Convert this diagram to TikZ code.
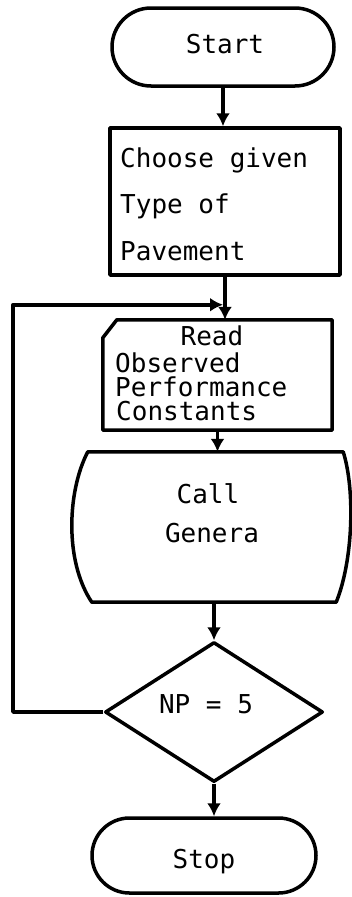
\documentclass[tikz,border=0pt]{standalone}
\usepackage{fontspec}
\setmonofont{DejaVu Sans Mono}
\usetikzlibrary{shapes.geometric,shapes.misc,arrows.meta,calc}
\begin{document}
\begin{tikzpicture}[x=1pt,y=-1pt,
  lw/.style={line width=3.5pt},
  term/.style={rounded rectangle, draw, lw, inner sep=0pt},
  box/.style={rectangle, draw, lw, inner sep=0pt},
  blank/.style={inner sep=0pt},
  txt/.style={font=\ttfamily\fontsize{26pt}{30pt}\selectfont, inner sep=0pt},
  flow/.style={lw, -{Latex[length=13pt,width=14pt]}},
  line join=round]
\useasboundingbox (0,0) rectangle (352,897);

% shapes
\node[term, minimum width=222pt, minimum height=78pt] (start) at (223,47) {};
\node[box, minimum width=230pt, minimum height=147pt] (choose) at (225,201.5) {};
\node[blank, minimum width=229pt, minimum height=110pt] (read) at (217.5,375) {};
\draw[lw] ([xshift=14pt]read.north west) -- (read.north east) -- (read.south east)
  -- (read.south west) -- ([yshift=-18pt]read.north west) -- cycle;
\node[blank, minimum width=255pt, minimum height=150pt] (call) at (215.5,527) {};
\draw[lw] (call.north west) -- (call.north east)
  .. controls ([xshift=12pt,yshift=-38pt]call.north east) and ([xshift=10pt,yshift=42pt]call.south east) .. ([xshift=-7pt]call.south east)
  -- ([xshift=4pt]call.south west)
  .. controls ([xshift=-24pt,yshift=42pt]call.south west) and ([xshift=-20pt,yshift=-38pt]call.north west) .. (call.north west) -- cycle;
\node[diamond, draw, lw, inner sep=0pt, minimum width=218pt, minimum height=140pt] (dec) at (214,712) {};
\node[term, minimum width=224pt, minimum height=75pt] (stop) at (204,855.5) {};

% texts
\node[txt, anchor=base] (tStart) at (225,53) {Start};
\node[txt, anchor=base west] (tC1) at (120,167) {Choose given};
\node[txt, anchor=base west] (tC2) at (120,213) {Type of};
\node[txt, anchor=base west] (tC3) at (120,260) {Pavement};
\node[txt, anchor=base] (tR1) at (212,345) {Read};
\node[txt, anchor=base west] (tR2) at (115,372) {Observed};
\node[txt, anchor=base west] (tR3) at (115,396) {Performance};
\node[txt, anchor=base west] (tR4) at (116,420) {Constants};
\node[txt, anchor=base] (tK1) at (208,503) {Call};
\node[txt, anchor=base] (tK2) at (212,542) {Genera};
\node[txt, anchor=base] (tNP) at (206,713) {NP = 5};
\node[txt, anchor=base] (tStop) at (204,868) {Stop};

% connectors
\coordinate (join) at ($(choose.south)+(0,28)$);
\coordinate (loopX) at (13,0);
\draw[flow] (start.south) -- (start.south |- choose.north);
\draw[flow] (choose.south) -- (choose.south |- read.north);
\draw[flow] (dec.west) -| (loopX |- join) -- ([xshift=-2pt]join);
\draw[flow] (read.south) -- (read.south |- call.north);
\draw[flow] (call.south -| dec.north) -- (dec.north);
\draw[flow] (dec.south) -- (dec.south |- stop.north);
\end{tikzpicture}
\end{document}
